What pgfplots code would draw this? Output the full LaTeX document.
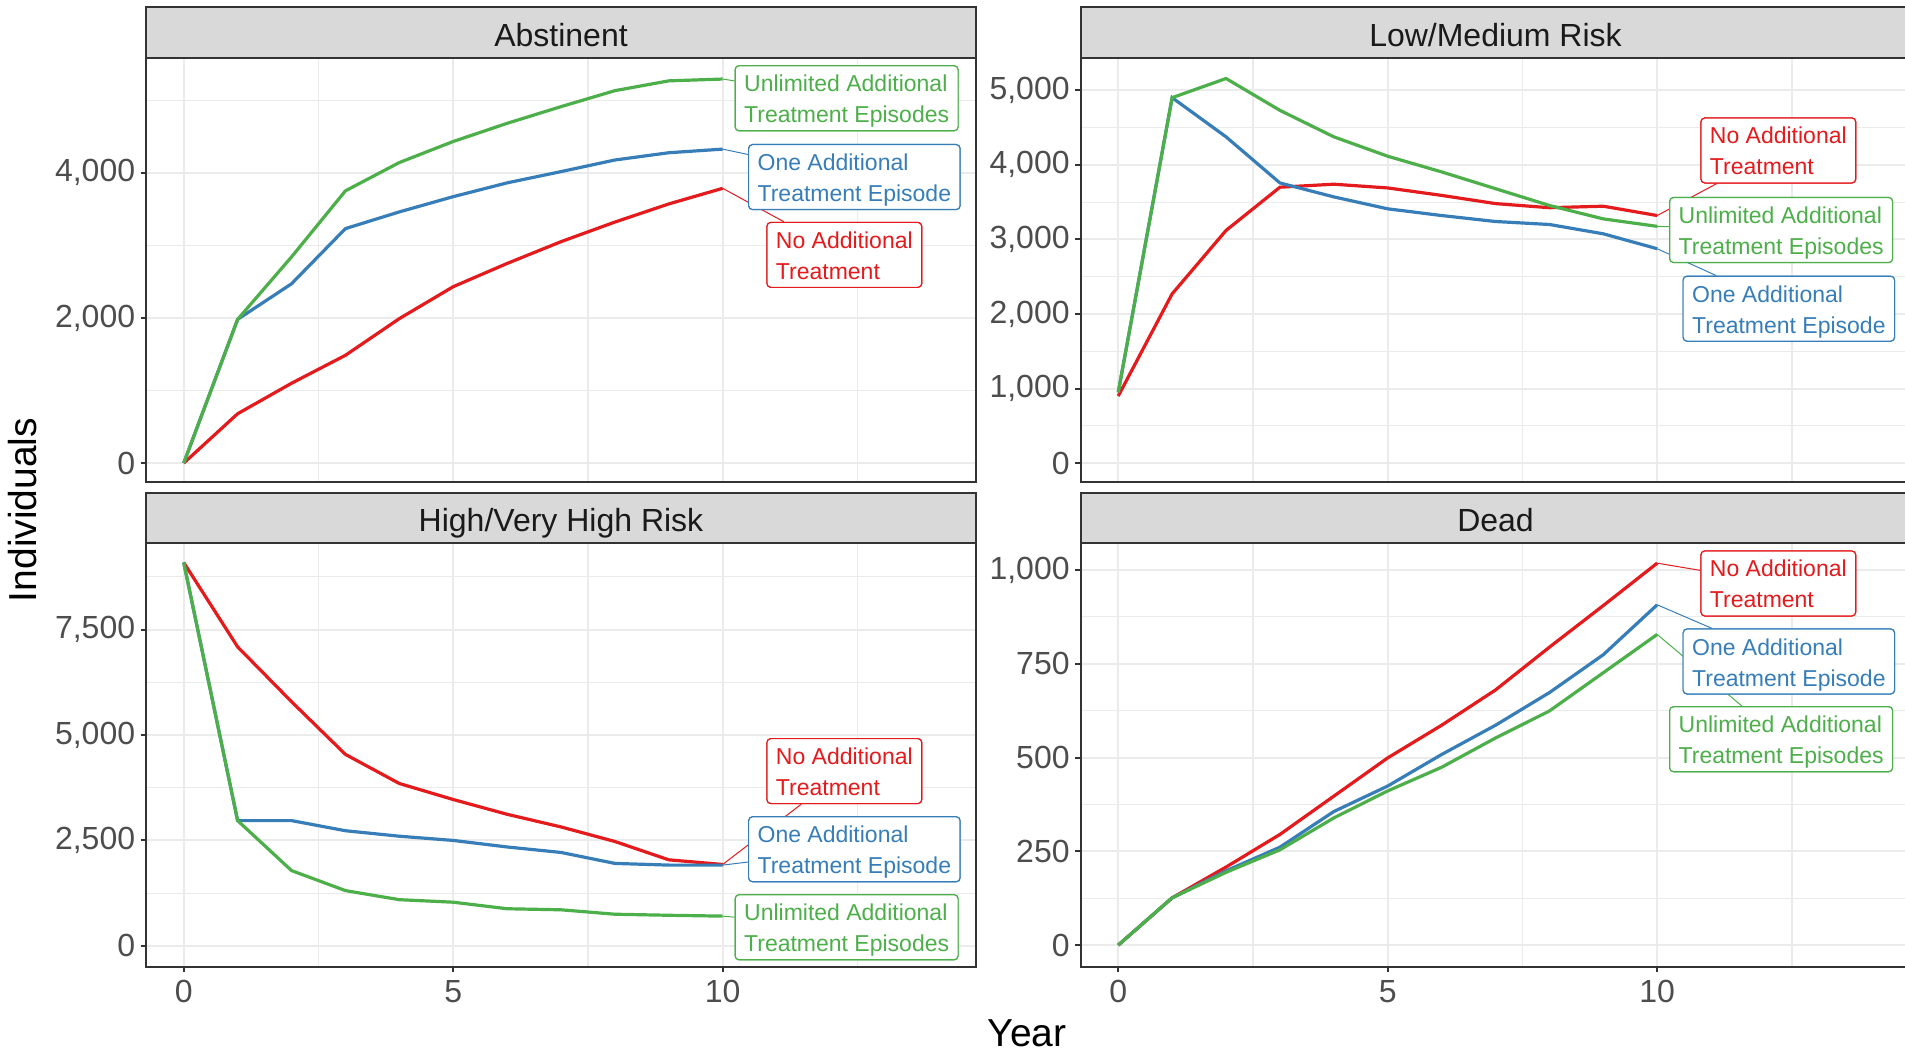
\documentclass[border=0pt]{standalone}
\usepackage{fontspec}
\setmainfont{Liberation Sans}
\usepackage{pgfplots}
\pgfplotsset{compat=1.18}
\definecolor{cred}{HTML}{E41A1C}
\definecolor{cblue}{HTML}{377EB8}
\definecolor{cgreen}{HTML}{4DAF4A}
\definecolor{grid92}{HTML}{EBEBEB}
\definecolor{grey20}{HTML}{333333}
\definecolor{grey30}{HTML}{4D4D4D}
\definecolor{grey10}{HTML}{1A1A1A}
\definecolor{stripgrey}{HTML}{D9D9D9}

\pgfplotsset{panel/.style={
  scale only axis, width=415pt, height=212pt,
  xmin=-0.7, xmax=14.7,
  xtick={0,5,10}, minor xtick={2.5,7.5,12.5},
  grid=both,
  major grid style={draw=grid92, line width=1pt},
  minor grid style={draw=grid92, line width=0.55pt},
  axis line style={draw=grey20, line width=1pt},
  tick align=outside, tick pos=left,
  major tick length=2.75pt, minor tick length=0pt,
  every tick/.style={draw=grey20, line width=1pt},
  ticklabel style={font=\fontsize{16}{16}\selectfont, text=grey30},
  yticklabel style={inner xsep=2.5pt},
  xticklabel style={inner ysep=4pt},
  /pgf/number format/assume math mode=true,
  /pgf/number format/1000 sep={,},
  scaled y ticks=false, clip=false,
}}
\tikzset{
  lab/.style={draw=#1, text=#1, fill=white, rounded corners=2pt, line width=0.6pt,
    align=left, anchor=north west, inner xsep=4.5pt, inner ysep=1.5pt,
    font=\fontsize{11.5}{15.5}\selectfont},
  rl/.style={cred, line width=1.6pt},
  bl/.style={cblue, line width=1.6pt},
  gl/.style={cgreen, line width=1.6pt},
  seg/.style={line width=0.5pt},
  striptext/.style={anchor=base, text=grey10, font=\fontsize{16}{16}\selectfont},
  stripbox/.style={fill=stripgrey, draw=grey20, line width=1pt}
}
\newcommand\lbl[2]{\rule{0pt}{11.5pt}#1\\#2\rule[-2.5pt]{0pt}{2.5pt}}
\newcommand\labNo{\lbl{No Additional}{Treatment}}
\newcommand\labOne{\lbl{One Additional}{Treatment Episode}}
\newcommand\labUn{\lbl{Unlimited Additional}{Treatment Episodes}}

\newcommand\absLabels{%
  \node[lab=cgreen] (g) at (axis cs:10.22,5481) {\labUn};
  \node[lab=cblue] (b) at (axis cs:10.47,4396) {\labOne};
  \node[lab=cred] (r) at (axis cs:10.81,3324) {\labNo};}
\newcommand\lowLabels{%
  \node[lab=cred] (r) at (axis cs:10.80,4636) {\labNo};
  \node[lab=cgreen] (g) at (axis cs:10.22,3570) {\labUn};
  \node[lab=cblue] (b) at (axis cs:10.47,2515) {\labOne};}
\newcommand\highLabels{%
  \node[lab=cred] (r) at (axis cs:10.81,4929) {\labNo};
  \node[lab=cblue] (b) at (axis cs:10.47,3076) {\labOne};
  \node[lab=cgreen] (g) at (axis cs:10.22,1225) {\labUn};}
\newcommand\deadLabels{%
  \node[lab=cred] (r) at (axis cs:10.80,1052) {\labNo};
  \node[lab=cblue] (b) at (axis cs:10.47,844) {\labOne};
  \node[lab=cgreen] (g) at (axis cs:10.22,637) {\labUn};}

\begin{document}
\begin{tikzpicture}
\useasboundingbox (0,0) rectangle (952.5pt,525.5pt);

% ---------------- Abstinent ----------------
\begin{axis}[panel, name=tl, at={(73pt,496.5pt)}, anchor=north west,
  ymin=-260, ymax=5580, ytick={0,2000,4000}, minor ytick={1000,3000,5000},
  xmajorticks=false, xticklabels={}]
\addplot[rl] coordinates {(0,0) (1,680) (2,1100) (3,1485) (4,1990) (5,2430) (6,2750) (7,3050) (8,3320) (9,3570) (10,3785)};
\addplot[bl] coordinates {(0,0) (1,1980) (2,2470) (3,3230) (4,3460) (5,3670) (6,3860) (7,4015) (8,4175) (9,4275) (10,4325)};
\addplot[gl] coordinates {(0,0) (1,1980) (2,2840) (3,3750) (4,4140) (5,4430) (6,4680) (7,4910) (8,5130) (9,5265) (10,5290)};
\absLabels
\draw[seg, cgreen] (axis cs:10,5290) -- (g);
\draw[seg, cblue] (axis cs:10,4325) -- (b);
\draw[seg, cred] (axis cs:10,3785) -- (r);
\absLabels
\end{axis}

% ---------------- Low/Medium Risk ----------------
\begin{axis}[panel, name=tr, at={(540.25pt,496.5pt)}, anchor=north west,
  ymin=-252, ymax=5432, ytick={0,1000,2000,3000,4000,5000},
  minor ytick={500,1500,2500,3500,4500},
  xmajorticks=false, xticklabels={}]
\addplot[rl] coordinates {(0,900) (1,2270) (2,3120) (3,3700) (4,3740) (5,3690) (6,3590) (7,3480) (8,3425) (9,3445) (10,3320)};
\addplot[bl] coordinates {(0,950) (1,4900) (2,4375) (3,3757) (4,3570) (5,3410) (6,3320) (7,3240) (8,3200) (9,3075) (10,2875)};
\addplot[gl] coordinates {(0,950) (1,4900) (2,5157) (3,4730) (4,4375) (5,4115) (6,3905) (7,3680) (8,3455) (9,3275) (10,3175)};
\lowLabels
\draw[seg, cred] (axis cs:10,3320) -- (r);
\draw[seg, cgreen] (axis cs:10,3175) -- (g);
\draw[seg, cblue] (axis cs:10,2875) -- (b);
\lowLabels
\end{axis}

% ---------------- High/Very High Risk ----------------
\begin{axis}[panel, name=bl, at={(73pt,254.25pt)}, anchor=north west,
  ymin=-490, ymax=9565, ytick={0,2500,5000,7500}, minor ytick={1250,3750,6250,8750}]
\addplot[rl] coordinates {(0,9090) (1,7090) (2,5790) (3,4540) (4,3850) (5,3470) (6,3120) (7,2820) (8,2475) (9,2040) (10,1930)};
\addplot[bl] coordinates {(0,9090) (1,2970) (2,2970) (3,2730) (4,2600) (5,2500) (6,2345) (7,2215) (8,1955) (9,1915) (10,1915)};
\addplot[gl] coordinates {(0,9090) (1,2970) (2,1785) (3,1310) (4,1095) (5,1035) (6,880) (7,855) (8,750) (9,725) (10,705)};
\highLabels
\draw[seg, cred] (axis cs:10,1930) -- (r);
\draw[seg, cblue] (axis cs:10,1915) -- (b);
\draw[seg, cgreen] (axis cs:10,705) -- (g);
\highLabels
\end{axis}

% ---------------- Dead ----------------
\begin{axis}[panel, name=br, at={(540.25pt,254.25pt)}, anchor=north west,
  ymin=-57, ymax=1073, ytick={0,250,500,750,1000}, minor ytick={125,375,625,875}]
\addplot[rl] coordinates {(0,0) (1,126) (2,208) (3,295) (4,397) (5,499) (6,586) (7,680) (8,794) (9,905) (10,1018)};
\addplot[bl] coordinates {(0,0) (1,126) (2,198) (3,261) (4,356) (5,424) (6,508) (7,586) (8,673) (9,774) (10,907)};
\addplot[gl] coordinates {(0,0) (1,126) (2,194) (3,254) (4,339) (5,411) (6,474) (7,552) (8,624) (9,726) (10,828)};
\deadLabels
\draw[seg, cred] (axis cs:10,1018) -- (r);
\draw[seg, cblue] (axis cs:10,907) -- (b);
\draw[seg, cgreen] (axis cs:10,828) -- (g);
\deadLabels
\end{axis}

% strips
\draw[stripbox] (tl.north west) rectangle ([yshift=25.5pt]tl.north east);
\node[striptext] at ([yshift=5.65pt]tl.north) {Abstinent};
\draw[stripbox] (tr.north west) rectangle ([yshift=25.5pt]tr.north east);
\node[striptext] at ([yshift=5.65pt]tr.north) {Low/Medium Risk};
\draw[stripbox] (bl.north west) rectangle ([yshift=25pt]bl.north east);
\node[striptext] at ([yshift=5.4pt]bl.north) {High/Very High Risk};
\draw[stripbox] (br.north west) rectangle ([yshift=25pt]br.north east);
\node[striptext] at ([yshift=5.4pt]br.north) {Dead};

% axis titles
\node[anchor=base, inner sep=0pt, font=\fontsize{19.5}{19.5}\selectfont] at (513.5pt,2.5pt) {Year};
\node[rotate=90, font=\fontsize{19.5}{19.5}\selectfont] at (11.5pt,270.5pt) {Individuals};
\end{tikzpicture}
\end{document}
